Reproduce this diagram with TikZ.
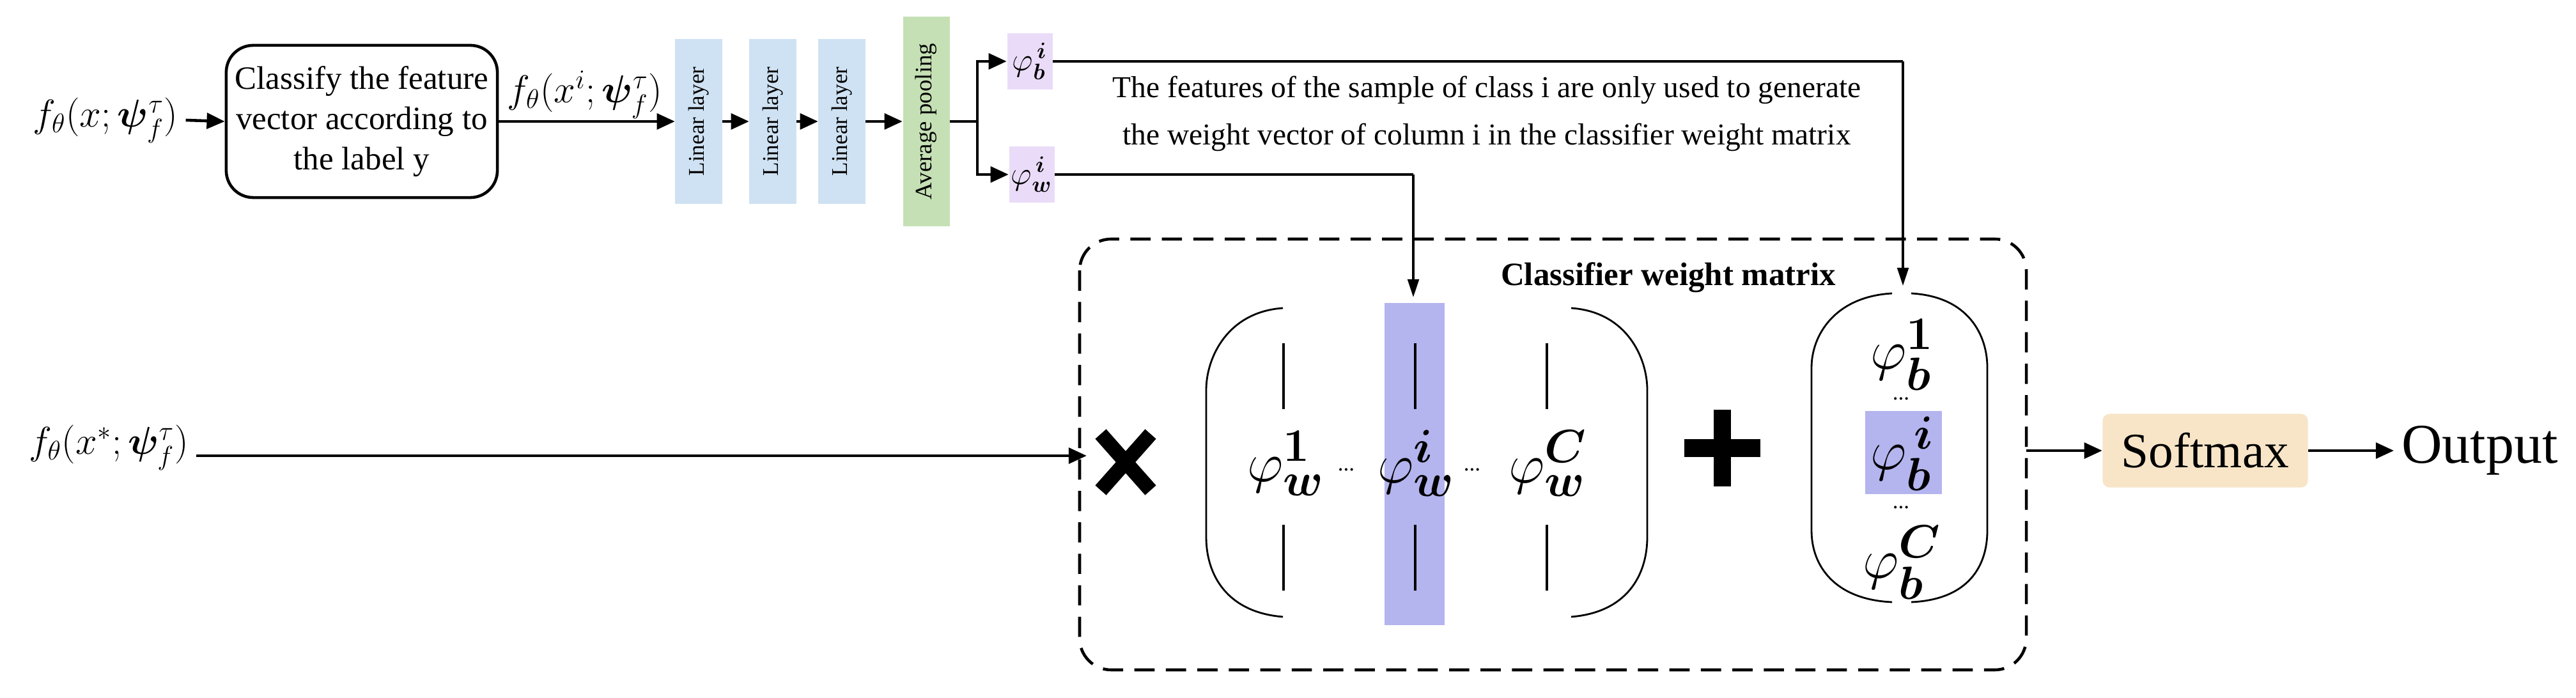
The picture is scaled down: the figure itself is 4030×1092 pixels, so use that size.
\documentclass[tikz,border=0pt]{standalone}
\usepackage{amsmath,bm}
\usepackage{fontspec}
\setmainfont{Liberation Serif}
\usetikzlibrary{arrows.meta}
\definecolor{lin}{HTML}{CFE2F3}
\definecolor{avg}{HTML}{C5E0B4}
\definecolor{phi}{HTML}{EADCF8}
\definecolor{hl}{HTML}{B4B4EE}
\definecolor{soft}{HTML}{F8E5C8}
\begin{document}
\begin{tikzpicture}[x=0.01cm,y=-0.01cm,
  conn/.style={line width=1.3pt,-{Triangle[length=8pt,width=7pt]}},
  thin/.style={line width=1pt,-{Triangle[length=8pt,width=5pt]}},
  lbl/.style={font=\fontsize{14}{17}\selectfont}]
\useasboundingbox (0,0) rectangle (4030,1092);
% top row
\node[font=\fontsize{17}{20}\selectfont] (in1) at (165,188) {$f_\theta(x;\bm{\psi}_f^{\tau})$};
\node[draw,line width=1.3pt,rounded corners=12pt,minimum width=424*0.2845pt,minimum height=238*0.2845pt,align=center,font=\fontsize{14.5}{18}\selectfont,inner sep=2pt] (cls) at (566,190) {Classify the feature\\vector according to\\the label y};
\node[font=\fontsize{17}{20}\selectfont] (fx) at (915,148) {$f_\theta(x^{i};\bm{\psi}_f^{\tau})$};
\foreach \n/\x in {l1/1093,l2/1209,l3/1317}{
  \node[fill=lin,minimum width=73*0.2845pt,minimum height=258*0.2845pt,inner sep=0pt] (\n) at (\x,190) {};
  \node[rotate=90,font=\fontsize{10}{12}\selectfont] at (\x,190) {Linear layer};
}
\node[fill=avg,minimum width=73*0.2845pt,minimum height=328*0.2845pt,inner sep=0pt] (avg) at (1449,190) {};
\node[rotate=90,font=\fontsize{10.5}{12}\selectfont] at (1449,190) {Average pooling};
\node[fill=phi,minimum width=71*0.2845pt,minimum height=88*0.2845pt,inner sep=0pt,font=\fontsize{14}{16}\selectfont] (pb) at (1611,96) {$\varphi_{\bm b}^{\,\bm i}$};
\node[fill=phi,minimum width=71*0.2845pt,minimum height=88*0.2845pt,inner sep=0pt,font=\fontsize{14}{16}\selectfont] (pw) at (1614,273) {$\varphi_{\bm w}^{\,\bm i}$};
\draw[conn] (in1.east) -- (cls.west);
\draw[conn] (cls.east) -- (l1.west);
\draw[conn] (l1.east) -- (l2.west);
\draw[conn] (l2.east) -- (l3.west);
\draw[conn] (l3.east) -- (avg.west);
\coordinate (br) at (1529,190);
\draw[line width=1.3pt] (avg.east) -- (br);
\draw[conn] (br) |- (pb.west);
\draw[conn] (br) |- (pw.west);
\node[align=center,font=\fontsize{13.5}{21}\selectfont] at (2326,178) {The features of the sample of class i are only used to generate\\the weight vector of column i in the classifier weight matrix};
% dashed box
\draw[line width=1.3pt,dash pattern=on 9pt off 5pt,rounded corners=14pt] (1689,374) rectangle (3170,1048);
\node[font=\bfseries\fontsize{14.5}{18}\selectfont] at (2610,434) {Classifier weight matrix};
% matrix
\node[fill=hl,minimum width=94*0.2845pt,minimum height=504*0.2845pt,inner sep=0pt] (col) at (2213,726) {};
\draw[line width=0.8pt] (2007,482) .. controls (1920,488) and (1887,560) .. (1887,610) -- (1887,840) .. controls (1887,900) and (1920,958) .. (2007,965);
\draw[line width=0.8pt] (2458,482) .. controls (2545,488) and (2577,560) .. (2577,610) -- (2577,840) .. controls (2577,900) and (2545,958) .. (2458,965);
\foreach \x in {2008,2214,2420}{
  \draw[line width=1pt] (\x,537) -- (\x,640);
  \draw[line width=1pt] (\x,821) -- (\x,924);
}
\node[font=\fontsize{31}{33}\selectfont] (w1) at (2012,725) {$\varphi_{\bm w}^{\bm 1}$};
\node[font=\fontsize{31}{33}\selectfont] (wi) at (2216,725) {$\varphi_{\bm w}^{\bm i}$};
\node[font=\fontsize{31}{33}\selectfont] (wc) at (2422,725) {$\varphi_{\bm w}^{\bm C}$};
\node at (2106,735) {...};
\node at (2303,735) {...};
% bias vector
\node[fill=hl,minimum width=120*0.2845pt,minimum height=129*0.2845pt,inner sep=0pt] (bi) at (2978,708) {};
\draw[line width=0.8pt] (2960,459) .. controls (2870,464) and (2834,525) .. (2834,575) -- (2834,830) .. controls (2834,885) and (2870,938) .. (2960,942);
\draw[line width=0.8pt] (2990,459) .. controls (3080,464) and (3109,525) .. (3109,575) -- (3109,830) .. controls (3109,885) and (3080,938) .. (2990,942);
\node[font=\fontsize{28}{30}\selectfont] at (2976,555) {$\varphi_{\bm b}^{\bm 1}$};
\node[font=\fontsize{28}{30}\selectfont] at (2976,710) {$\varphi_{\bm b}^{\,\bm i}$};
\node[font=\fontsize{28}{30}\selectfont] at (2976,880) {$\varphi_{\bm b}^{\bm C}$};
\node at (2974,624) {...};
\node at (2974,794) {...};
% operators
\draw[line width=6.5pt] (1722,679) -- (1800,767);
\draw[line width=6.5pt] (1800,679) -- (1722,767);
\coordinate (mul) at (1700,713);
\fill (2635,687) rectangle (2754,715);
\fill (2681,641) rectangle (2708,761);
% top arrows into matrix
\coordinate (pbr) at (2977,96);
\coordinate (pwr) at (2211,273);
\draw[line width=1.3pt] (pb.east) -- (pbr);
\draw[thin] (pbr) -- (2977,447);
\draw[line width=1.3pt] (pw.east) -- (pwr);
\draw[thin] (pwr) -- (2211,465);
% input 2
\node[font=\fontsize{17}{20}\selectfont] (in2) at (170,700) {$f_\theta(x^{*};\bm{\psi}_f^{\tau})$};
\draw[conn] (in2.east |- mul) -- (mul);
% output
\node[fill=soft,rounded corners=3pt,minimum width=321*0.2845pt,minimum height=115*0.2845pt,font=\fontsize{22}{24}\selectfont] (sm) at (3450,705) {Softmax};
\node[font=\fontsize{25}{28}\selectfont,anchor=west] (out) at (3745,705) {Output};
\coordinate (boxr) at (3170,705);
\draw[conn] (boxr) -- (sm.west);
\draw[conn] (sm.east) -- (out.west);
\end{tikzpicture}
\end{document}
